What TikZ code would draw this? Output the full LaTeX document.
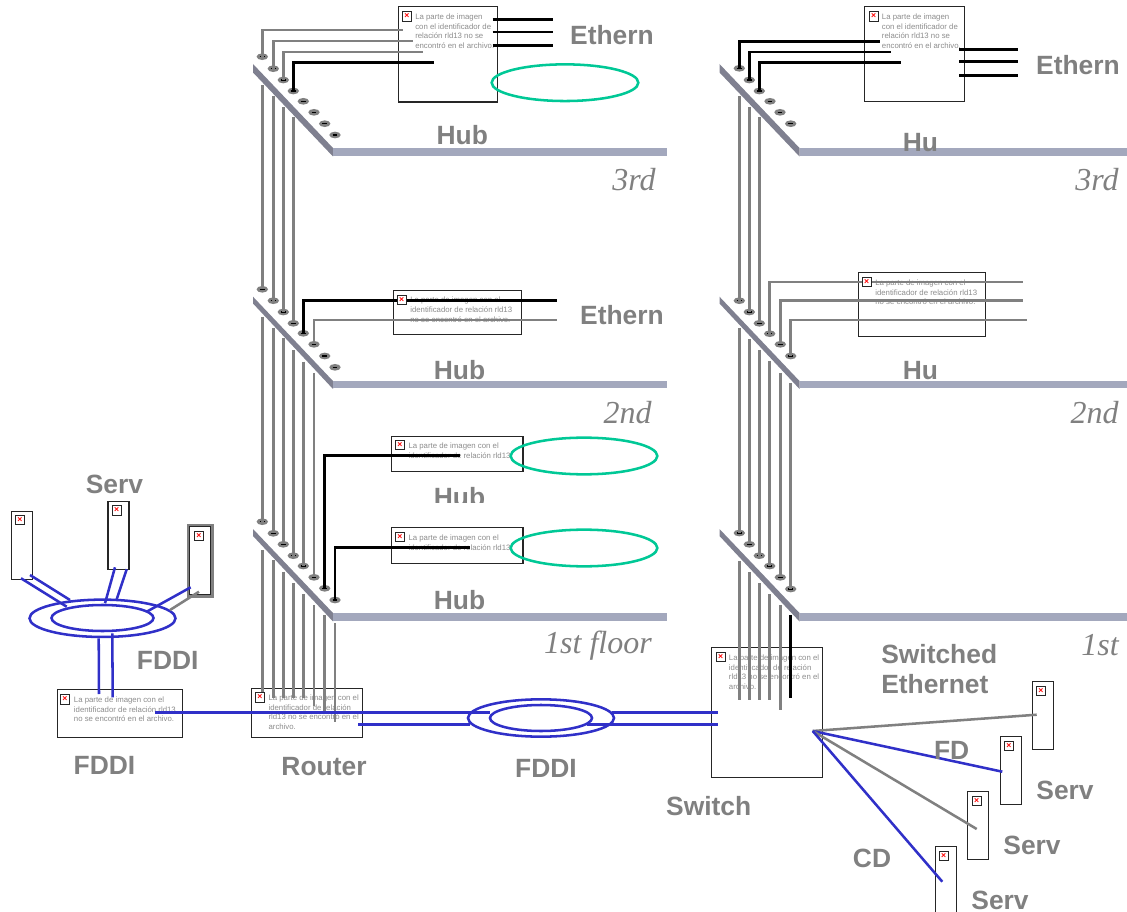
\documentclass[tikz,border=0pt]{standalone}
\usepackage{fontspec}
\setmainfont{Liberation Sans}
\newfontfamily\floorfont{Liberation Serif}
\usepackage{tikz}
\usetikzlibrary{shapes.geometric}
\definecolor{labelgray}{HTML}{808080}
\definecolor{textgray}{HTML}{8C8C8C}
\definecolor{slabgray}{HTML}{7F8090}
\definecolor{stripblue}{HTML}{A3A8BD}
\definecolor{linkblue}{HTML}{3030C8}
\definecolor{ringgreen}{HTML}{00C896}
\tikzset{
	port/.style={ellipse, inner sep=0pt, minimum width=8.6pt, minimum height=5pt, fill=labelgray},
	imgbox/.style={rectangle, draw=black!85, line width=0.8pt, inner sep=0pt},
	imgtext/.style={anchor=north west, inner sep=0pt, align=left, text=textgray, font=\fontsize{5.85}{7.25}\selectfont},
	icon/.style={rectangle, draw=black!85, fill=white, line width=0.6pt, inner sep=0pt, minimum size=7pt, text=red, font=\bfseries\fontsize{6.5}{6.5}\selectfont},
	boldlabel/.style={inner sep=0pt, align=left, text=labelgray, font=\bfseries\fontsize{19.8}{22.5}\selectfont},
	floorlabel/.style={inner sep=0pt, text=labelgray, font=\floorfont\itshape\fontsize{24}{26}\selectfont},
	grayline/.style={draw=labelgray, line width=1.9pt},
	blackline/.style={draw=black, line width=1.9pt},
	blueline/.style={draw=linkblue, line width=1.9pt},
	slab/.style={fill=slabgray},
	strip/.style={fill=stripblue},
	greenring/.style={ellipse, draw=ringgreen, line width=1.9pt, inner sep=0pt, minimum width=110pt, minimum height=27.5pt},
	outerring/.style={ellipse, draw=linkblue, line width=1.9pt, inner sep=0pt, minimum width=109.5pt, minimum height=28pt},
	innerring/.style={ellipse, draw=linkblue, line width=1.9pt, inner sep=0pt, minimum width=76.5pt, minimum height=19.5pt},
	server/.style={imgbox, minimum width=15.75pt, minimum height=50.7pt},
}
\newcommand{\portdash}{\rule{3.6pt}{0.8pt}}
\begin{document}
\begin{tikzpicture}[x=0.75pt, y=-0.75pt]
	\useasboundingbox (0,0) rectangle (1127,912);

	\node[imgbox, minimum width=74.5pt, minimum height=71.3pt](hubthreebox) at (447.7,54.5){};
	\node[imgbox, minimum width=74.7pt, minimum height=71.3pt](hubthreerbox) at (914.5,54.2){};
	\node[imgbox, minimum width=95.8pt, minimum height=32.7pt](hubtwobox) at (457.2,312.5){};
	\node[imgbox, minimum width=95.6pt, minimum height=48pt](hubtworbox) at (922,304.3){};
	\node[imgbox, minimum width=98.5pt, minimum height=26.6pt](hubonebox) at (457.3,454){};
	\node[imgbox, minimum width=98.5pt, minimum height=27.2pt](hubzerobox) at (457.3,545.8){};
	\node[imgbox, minimum width=83.3pt, minimum height=37pt](routerbox) at (307.2,713){};
	\node[imgbox, minimum width=94pt, minimum height=35.8pt](fddibox) at (119.7,713.8){};
	\node[imgbox, minimum width=83.3pt, minimum height=97.3pt](switchbox) at (767.2,712.2){};
	\node[server](servA) at (21.8,545.3){};
	\node[server](servB) at (118.5,535.3){};
	\node[server](servC) at (200.2,560.5){};
	\node[rectangle, draw=labelgray, line width=2pt, inner sep=0pt, minimum width=18.5pt, minimum height=53.5pt](servCframe) at (200.3,560.7){};
	\node[server](servD) at (1042.7,715.5){};
	\node[server](servE) at (1010.7,770.5){};
	\node[server](servF) at (978.2,825.5){};
	\node[server](servG) at (945.8,880.3){};

	\node[imgtext](txtA) at (415,13.5){La parte de imagen\\con el identificador de\\relación rld13 no se\\encontró en el archivo.};
	\node[imgtext](txtB) at (881.7,13.5){La parte de imagen\\con el identificador de\\relación rld13 no se\\encontró en el archivo.};
	\node[imgtext](txtC) at (410,297){La parte de imagen con el\\identificador de relación rld13\\no se encontró en el archivo.};
	\node[imgtext](txtD) at (875,279.5){La parte de imagen con el\\identificador de relación rld13\\no se encontró en el archivo.};
	\node[imgtext](txtE) at (408.3,442.5){La parte de imagen con el\\identificador de relación rld13};
	\node[imgtext](txtF) at (408.3,534.5){La parte de imagen con el\\identificador de relación rld13};
	\node[imgtext](txtG) at (268.3,694.5){La parte de imagen con el\\identificador de relación\\rld13 no se encontró en el\\archivo.};
	\node[imgtext](txtH) at (73.7,696.5){La parte de imagen con el\\identificador de relación rld13\\no se encontró en el archivo.};
	\node[imgtext](txtI) at (728.7,654.5){La parte de imagen con el\\identificador de relación\\rld13 no se encontró en el\\archivo.};

	\node[port](pca) at (262.3,56.7){\portdash};
	\node[port](pcb) at (273.3,68.7){\portdash};
	\node[port](pcc) at (283.3,80){\portdash};
	\node[port](pcd) at (293.3,91){\portdash};
	\node[port](pce) at (303.3,101.3){\portdash};
	\node[port](pcf) at (314,112.3){\portdash};
	\node[port](pcg) at (324.7,123.7){\portdash};
	\node[port](pch) at (335,135){\portdash};
	\node[port](pba) at (262.3,289.3){\portdash};
	\node[port](pbb) at (273.3,300.7){\portdash};
	\node[port](pbc) at (283.3,312){\portdash};
	\node[port](pbd) at (293.3,323.3){\portdash};
	\node[port](pbe) at (303.3,333.3){\portdash};
	\node[port](pbf) at (314,344.3){\portdash};
	\node[port](pbg) at (324.7,356){\portdash};
	\node[port](pbh) at (335,367.3){\portdash};
	\node[port](paa) at (262.3,521.7){\portdash};
	\node[port](pab) at (273.3,533.3){\portdash};
	\node[port](pac) at (283.3,544.3){\portdash};
	\node[port](pad) at (293.3,555.7){\portdash};
	\node[port](pae) at (303.3,566){\portdash};
	\node[port](paf) at (314,577.3){\portdash};
	\node[port](pag) at (324.7,588.3){\portdash};
	\node[port](pah) at (335,600){\portdash};
	\node[port](qca) at (739.3,68.3){\portdash};
	\node[port](qcb) at (749.3,80){\portdash};
	\node[port](qcc) at (759.3,91){\portdash};
	\node[port](qcd) at (770,101.3){\portdash};
	\node[port](qce) at (780,112.3){\portdash};
	\node[port](qcf) at (790.7,123.7){\portdash};
	\node[port](qba) at (739.3,300.7){\portdash};
	\node[port](qbb) at (749.3,312){\portdash};
	\node[port](qbc) at (759.3,323.3){\portdash};
	\node[port](qbd) at (769.7,333.7){\portdash};
	\node[port](qbe) at (780.3,344.3){\portdash};
	\node[port](qbf) at (790.7,356){\portdash};
	\node[port](qaa) at (739.3,533){\portdash};
	\node[port](qab) at (749.3,544.3){\portdash};
	\node[port](qac) at (759.3,555.7){\portdash};
	\node[port](qad) at (769.7,566){\portdash};
	\node[port](qae) at (780.3,577.3){\portdash};
	\node[port](qaf) at (790.7,589){\portdash};

	\coordinate (uca) at (262.3,85);
	\coordinate (ucb) at (273.3,96);
	\coordinate (ucc) at (283.3,107);
	\coordinate (ucd) at (293.3,117);
	\draw[grayline] (uca) -- (pba.center);
	\draw[grayline] (ucb) -- (pbb.center);
	\draw[grayline] (ucc) -- (pbc.center);
	\draw[grayline] (ucd) -- (pbd.center);
	\coordinate (uba) at (262.3,316.7);
	\coordinate (ubb) at (273.3,328);
	\coordinate (ubc) at (283.3,338);
	\coordinate (ubd) at (293.3,350);
	\coordinate (ube) at (303.3,361.7);
	\coordinate (ubf) at (314,373);
	\draw[grayline] (uba) -- (paa.center);
	\draw[grayline] (ubb) -- (pab.center);
	\draw[grayline] (ubc) -- (pac.center);
	\draw[grayline] (ubd) -- (pad.center);
	\draw[grayline] (ube) -- (pae.center);
	\draw[grayline] (ubf) -- (paf.center);
	\coordinate (uaa) at (262.3,550);
	\coordinate (uab) at (273.3,560);
	\coordinate (uac) at (283.3,571.7);
	\coordinate (uad) at (293.3,583);
	\coordinate (uae) at (303.3,594);
	\coordinate (uaf) at (314,605);
	\coordinate (uag) at (324.7,615);
	\coordinate (uah) at (335,623);
	\coordinate (raa) at (262.3,691.7);
	\coordinate (rab) at (273.3,698);
	\coordinate (rac) at (283.3,698);
	\coordinate (rad) at (293.3,698);
	\coordinate (rae) at (303.3,698);
	\coordinate (raf) at (314,706);
	\coordinate (rag) at (324.7,713);
	\coordinate (rah) at (335,721.7);
	\draw[grayline] (uaa) -- (raa);
	\draw[grayline] (uab) -- (rab);
	\draw[grayline] (uac) -- (rac);
	\draw[grayline] (uad) -- (rad);
	\draw[grayline] (uae) -- (rae);
	\draw[grayline] (uaf) -- (raf);
	\draw[grayline] (uag) -- (rag);
	\draw[grayline] (uah) -- (rah);
	\coordinate (vca) at (739.3,96);
	\coordinate (vcb) at (749.3,107);
	\coordinate (vcc) at (759.3,117);
	\draw[grayline] (vca) -- (qba.center);
	\draw[grayline] (vcb) -- (qbb.center);
	\draw[grayline] (vcc) -- (qbc.center);
	\coordinate (vba) at (739.3,328);
	\coordinate (vbb) at (749.3,339);
	\coordinate (vbc) at (759.3,350);
	\coordinate (vbd) at (769.7,361);
	\coordinate (vbe) at (780.3,373);
	\coordinate (vbf) at (790.7,383);
	\draw[grayline] (vba) -- (qaa.center);
	\draw[grayline] (vbb) -- (qab.center);
	\draw[grayline] (vbc) -- (qac.center);
	\draw[grayline] (vbd) -- (qad.center);
	\draw[grayline] (vbe) -- (qae.center);
	\draw[grayline] (vbf) -- (qaf.center);
	\coordinate (vaa) at (739.3,561);
	\coordinate (vab) at (749.3,572);
	\coordinate (vac) at (759.3,583);
	\coordinate (vad) at (769.7,594);
	\coordinate (vae) at (780.3,605);
	\coordinate (vaf) at (790.7,615);
	\coordinate (saa) at (739.3,700);
	\coordinate (sab) at (749.3,700);
	\coordinate (sac) at (759.3,700);
	\coordinate (sad) at (769.7,700);
	\coordinate (sae) at (780.3,710);
	\coordinate (saf) at (790.7,698);
	\draw[grayline] (vaa) -- (saa);
	\draw[grayline] (vab) -- (sab);
	\draw[grayline] (vac) -- (sac);
	\draw[grayline] (vad) -- (sad);
	\draw[grayline] (vae) -- (sae);
	\draw[blackline] (vaf) -- (saf);

	\fill[slab] (253,64) -- (333,148) -- (333,156.5) -- (253,72.5) -- cycle;
	\fill[slab] (253,296.7) -- (333,381) -- (333,389) -- (253,303.5) -- cycle;
	\fill[slab] (253,529) -- (333,613) -- (333,621.5) -- (253,536) -- cycle;
	\fill[slab] (719.5,64) -- (799.5,148) -- (799.5,156.5) -- (719.5,72.5) -- cycle;
	\fill[slab] (719.5,296.7) -- (799.5,381) -- (799.5,389) -- (719.5,303.5) -- cycle;
	\fill[slab] (719.5,529) -- (799.5,613) -- (799.5,621.5) -- (719.5,536) -- cycle;
	\fill[strip] (333,148) rectangle (667,156);
	\fill[strip] (333,381) rectangle (667,388);
	\fill[strip] (333,613) rectangle (667,621);
	\fill[strip] (799.5,148) rectangle (1127,156);
	\fill[strip] (799.5,381) rectangle (1127,388);
	\fill[strip] (799.5,613) rectangle (1127,621);

	\coordinate (ca) at (403,30);
	\coordinate (cb) at (413,41);
	\coordinate (cc) at (423,52);
	\coordinate (cd) at (434,62.7);
	\draw[grayline] (pca.center) |- (ca);
	\draw[grayline] (pcb.center) |- (cb);
	\draw[grayline] (pcc.center) |- (cc);
	\draw[blackline] (pcd.center) |- (cd);
	\coordinate (da) at (880,41.3);
	\coordinate (db) at (890.7,52);
	\coordinate (dc) at (901,62.7);
	\draw[blackline] (qca.center) |- (da);
	\draw[blackline] (qcb.center) |- (db);
	\draw[blackline] (qcc.center) |- (dc);
	\coordinate (ea) at (557,300.3);
	\coordinate (eb) at (557,320);
	\draw[blackline] (pbe.center) |- (ea);
	\draw[grayline] (pbf.center) |- (eb);
	\coordinate (fa) at (1023.3,282);
	\coordinate (fb) at (1023.3,300.7);
	\coordinate (fc) at (1027,320);
	\draw[grayline] (qbd.center) |- (fa);
	\draw[grayline] (qbe.center) |- (fb);
	\draw[grayline] (qbf.center) |- (fc);
	\coordinate (ga) at (460,455.7);
	\coordinate (gb) at (470,547.7);
	\draw[blackline] (pag.center) |- (ga);
	\draw[blackline] (pah.center) |- (gb);

	\coordinate (ha) at (492.7,19.3);
	\coordinate (hb) at (552.7,19.3);
	\coordinate (hc) at (492.7,32);
	\coordinate (hd) at (552.7,32);
	\coordinate (he) at (492.7,45.3);
	\coordinate (hf) at (552.7,45.3);
	\draw[blackline] (ha) -- (hb);
	\draw[blackline] (hc) -- (hd);
	\draw[blackline] (he) -- (hf);
	\coordinate (ia) at (959,49.3);
	\coordinate (ib) at (1018.3,49.3);
	\coordinate (ic) at (959,61.7);
	\coordinate (id) at (1018.3,61.7);
	\coordinate (ie) at (959,75.7);
	\coordinate (if) at (1018.3,75.7);
	\draw[blackline] (ia) -- (ib);
	\draw[blackline] (ic) -- (id);
	\draw[blackline] (ie) -- (if);

	\node[greenring](ethA) at (565,82.7){};
	\node[greenring](ethB) at (584,456){};
	\node[greenring](ethC) at (584,548){};

	\node[outerring](ringL) at (102.5,618.3){};
	\node[innerring](ringLi) at (102.5,618){};
	\node[outerring](ringC) at (541,718){};
	\node[innerring](ringCi) at (541,718){};

	\coordinate (ja) at (155,712.7);
	\coordinate (jb) at (490,712.7);
	\coordinate (jc) at (358,724.5);
	\coordinate (jd) at (470,724.5);
	\coordinate (je) at (611.7,712.7);
	\coordinate (jf) at (718.3,712.7);
	\coordinate (jg) at (586.7,724.5);
	\coordinate (jh) at (718.3,724.5);
	\draw[blueline] (ja) -- (jb);
	\draw[blueline] (jc) -- (jd);
	\draw[blueline] (je) -- (jf);
	\draw[blueline] (jg) -- (jh);

	\coordinate (ka) at (21,578.3);
	\coordinate (kb) at (66.7,606.7);
	\coordinate (kc) at (30,575);
	\coordinate (kd) at (70,600);
	\coordinate (ke) at (115,567.3);
	\coordinate (kf) at (105,603.3);
	\coordinate (kg) at (126.7,569.3);
	\coordinate (kh) at (116.7,599.3);
	\coordinate (ki) at (190.7,587.3);
	\coordinate (kj) at (146.7,611.7);
	\coordinate (kk) at (199,591.7);
	\coordinate (kl) at (170,610);
	\coordinate (km) at (98.7,638.3);
	\coordinate (kn) at (99,694);
	\coordinate (ko) at (112.3,633.3);
	\coordinate (kp) at (112.7,697.3);
	\draw[blueline] (ka) -- (kb);
	\draw[blueline] (kc) -- (kd);
	\draw[blueline] (ke) -- (kf);
	\draw[blueline] (kg) -- (kh);
	\draw[blueline] (ki) -- (kj);
	\draw[grayline] (kk) -- (kl);
	\draw[blueline] (km) -- (kn);
	\draw[blueline] (ko) -- (kp);

	\coordinate (swpt) at (812.7,731);
	\coordinate (la) at (1036.7,714.7);
	\coordinate (lb) at (1002.3,771.7);
	\coordinate (lc) at (976.7,829);
	\coordinate (ld) at (942.3,881.7);
	\draw[grayline] (swpt) -- (la);
	\draw[blueline] (swpt) -- (lb);
	\draw[grayline] (swpt) -- (lc);
	\draw[blueline] (swpt) -- (ld);

	\node[icon](icA) at (407,16.3){×};
	\node[icon](icB) at (873.7,16.3){×};
	\node[icon](icC) at (401.7,300){×};
	\node[icon](icD) at (866.7,281.7){×};
	\node[icon](icE) at (400,445){×};
	\node[icon](icF) at (400,536.7){×};
	\node[icon](icG) at (260,697.3){×};
	\node[icon](icH) at (65,699.3){×};
	\node[icon](icI) at (720.7,657){×};
	\node[icon](icJ) at (20,520){×};
	\node[icon](icK) at (116.7,510.3){×};
	\node[icon](icL) at (199,535.7){×};
	\node[icon](icM) at (1041,690.7){×};
	\node[icon](icN) at (1009,745.7){×};
	\node[icon](icO) at (976.7,800.7){×};
	\node[icon](icP) at (943.7,855.7){×};

	\node[boldlabel](lblethA) at (612,35.5){Ethern};
	\node[boldlabel](lblethB) at (622,315.5){Ethern};
	\node[boldlabel](lblethC) at (1078,65.5){Ethern};
	\node[boldlabel](lblhubA) at (462.3,135){Hub};
	\node[boldlabel](lblhubB) at (459.5,370){Hub};
	\begin{scope}
		\clip (400,480) rectangle (520,502);
		\node[boldlabel](lblhubC) at (459.5,497){Hub};
	\end{scope}
	\node[boldlabel](lblhubD) at (459.5,600.5){Hub};
	\node[boldlabel](lblhuA) at (920.5,142.5){Hu};
	\node[boldlabel](lblhuB) at (920.5,370.5){Hu};
	\node[boldlabel](lblservA) at (114.5,484.5){Serv};
	\node[boldlabel](lblservB) at (1065,790.5){Serv};
	\node[boldlabel](lblservC) at (1032,845.5){Serv};
	\node[boldlabel](lblservD) at (1000,900.5){Serv};
	\node[boldlabel](lblfddiA) at (167.7,660.5){FDDI};
	\node[boldlabel](lblfddiB) at (104.5,765.5){FDDI};
	\node[boldlabel](lblfddiC) at (546,768.5){FDDI};
	\node[boldlabel](lblrouter) at (324,766.5){Router};
	\node[boldlabel](lblswitch) at (708.7,806.5){Switch};
	\node[boldlabel, anchor=west](lblswe) at (881,669.5){Switched\\Ethernet};
	\node[boldlabel](lblfd) at (951.7,750.5){FD};
	\node[boldlabel](lblcd) at (872,858.5){CD};

	\node[floorlabel, anchor=east](flrA) at (656,179.5){3rd};
	\node[floorlabel, anchor=east](flrB) at (1119,179.5){3rd};
	\node[floorlabel, anchor=east](flrC) at (652,412.5){2nd};
	\node[floorlabel, anchor=east](flrD) at (1119,412.5){2nd};
	\node[floorlabel, anchor=east](flrE) at (652,645.5){1st floor};
	\node[floorlabel, anchor=east](flrF) at (1119,645.5){1st};
\end{tikzpicture}
\end{document}
